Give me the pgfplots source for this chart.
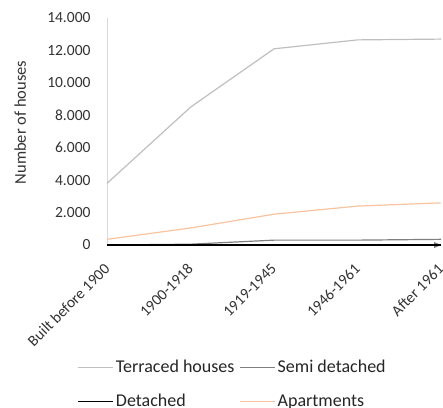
\documentclass[border=0pt]{standalone}
\usepackage{fontspec}
\setmainfont{Carlito}
\usepackage{pgfplots}
\pgfplotsset{compat=1.18}
\usetikzlibrary{arrows.meta}

\definecolor{terraced}{HTML}{BFBFBF}
\definecolor{semi}{HTML}{7F7F7F}
\definecolor{apart}{HTML}{F8C39E}
\definecolor{yaxis}{HTML}{D9D9D9}

\begin{document}
\begin{tikzpicture}
\path[use as bounding box] (-107pt,-162pt) rectangle (336pt,245pt);
\begin{axis}[
  at={(0,0)}, anchor=south west,
  scale only axis, width=334pt, height=227pt,
  xmin=0, xmax=4, ymin=0, ymax=14000,
  enlarge x limits=false,
  axis lines=left,
  x axis line style={-{Triangle[length=7pt,width=6pt]}, draw=semi, line width=0.8pt},
  y axis line style={-, draw=yaxis, line width=0.8pt},
  major tick length=0pt,
  xtick={0,1,2,3,4},
  xticklabels={Built before 1900,1900-1918,1919-1945,1946-1961,After 1961},
  xticklabel style={xshift=-4pt, yshift=-16pt, rotate=45, anchor=north east, inner sep=1pt, font=\fontsize{15.5}{17}\selectfont, text=black!80},
  ytick={0,2000,4000,6000,8000,10000,12000,14000},
  scaled y ticks=false,
  yticklabel={\pgfmathprintnumber[fixed, 1000 sep={.}, assume math mode=true]{\tick}},
  yticklabel style={font=\fontsize{15.5}{17}\selectfont, text=black!80, xshift=-13pt},
  ylabel={Number of houses},
  ylabel style={at={(rel axis cs:-0.26,0.54)}, anchor=center, rotate=0, font=\fontsize{16.5}{18}\selectfont, text=black!80},
  legend columns=2,
  legend cell align=left,
  legend style={draw=none, at={(0.376,-0.49)}, anchor=north,
    font=\fontsize{18}{20}\selectfont, text=black!85,
    /tikz/every even column/.append style={column sep=3pt},
    row sep=16pt},
  legend image code/.code={\draw[#1] (0pt,0pt) -- (35pt,0pt);},
  clip=false,
]
\addplot[terraced, line width=1.2pt] coordinates {(0,3800) (1,8500) (2,12100) (3,12650) (4,12700)};
\addlegendentry{Terraced houses}
\addplot[semi, line width=1.2pt] coordinates {(0,0) (1,50) (2,300) (3,300) (4,350)};
\addlegendentry{Semi detached}
\addplot[black, line width=1.5pt] coordinates {(0,10) (1,10) (2,10) (3,10) (4,10)};
\addlegendentry{Detached}
\addplot[apart, line width=1.2pt] coordinates {(0,350) (1,1050) (2,1900) (3,2400) (4,2600)};
\addlegendentry{Apartments}
\end{axis}
\end{tikzpicture}
\end{document}
